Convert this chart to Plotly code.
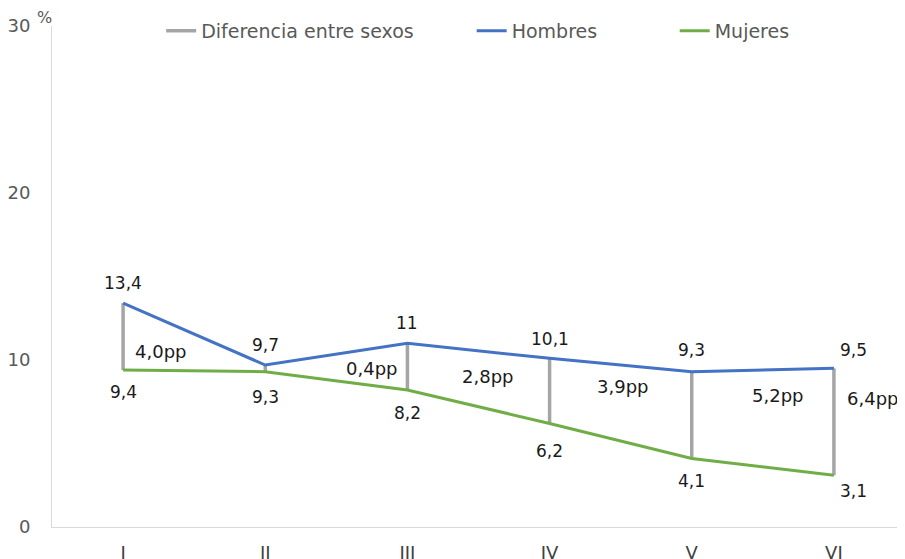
import plotly.graph_objects as go

categorias = ["I", "II", "III", "IV", "V", "VI"]
hombres = [13.4, 9.7, 11.0, 10.1, 9.3, 9.5]
mujeres = [9.4, 9.3, 8.2, 6.2, 4.1, 3.1]
diferencia_pp = [4.0, 0.4, 2.8, 3.9, 5.2, 6.4]
y_ticks = [0, 10, 20, 30]

C_H = "#4472C4"
C_M = "#70AD47"
C_G = "#A5A5A5"
FONT = "'DejaVu Sans', sans-serif"
TXT = "#1a1a1a"


def fmt(v):
    s = f"{v:.1f}".replace(".", ",")
    return s[:-2] if s.endswith(",0") and v == 11.0 else s


xs = list(range(len(categorias)))

# gray difference lines (mujeres -> hombres at each category)
gx, gy = [], []
for i in xs:
    gx += [i, i, None]
    gy += [hombres[i], mujeres[i], None]

fig = go.Figure()
fig.add_trace(go.Scatter(x=gx, y=gy, mode="lines", name="Diferencia entre sexos",
                         line=dict(color=C_G, width=3.5), legend="legend",
                         showlegend=True, hoverinfo="skip"))
fig.add_trace(go.Scatter(x=xs, y=hombres, mode="lines", name="Hombres",
                         line=dict(color=C_H, width=3), legend="legend2",
                         showlegend=True))
fig.add_trace(go.Scatter(x=xs, y=mujeres, mode="lines", name="Mujeres",
                         line=dict(color=C_M, width=3), legend="legend3",
                         showlegend=True))

ann = []
# label placement (style): pixel shifts
h_shift = [(0, 20), (0, 20), (0, 20), (0, 19), (0, 22), (20, 18)]
m_shift = [(0, -22), (0, -25), (0, -23), (0, -28), (0, -22), (20, -16)]
for i in xs:
    ann.append(dict(x=i, y=hombres[i], text=fmt(hombres[i]), showarrow=False,
                    xshift=h_shift[i][0], yshift=h_shift[i][1],
                    font=dict(size=17, color=TXT, family=FONT)))
    ann.append(dict(x=i, y=mujeres[i], text=fmt(mujeres[i]), showarrow=False,
                    xshift=m_shift[i][0], yshift=m_shift[i][1],
                    font=dict(size=17, color=TXT, family=FONT)))
# pp labels placement (style)
pp_dx = [0.26, 0.75, 0.56, 0.51, 0.6, 0.27]
pp_y = [10.5, 9.5, 9.0, 8.4, 7.9, 7.7]
for i in xs:
    ann.append(dict(x=i + pp_dx[i], y=pp_y[i], text=fmt(diferencia_pp[i]) + "pp",
                    showarrow=False, font=dict(size=18, color=TXT, family=FONT)))
# % unit
ann.append(dict(xref="paper", yref="paper", x=-0.009, y=1.0, yshift=9, text="%",
                showarrow=False, xanchor="center", yanchor="middle",
                font=dict(size=16, color="#595959", family=FONT)))

leg = dict(orientation="h", yanchor="middle", y=0.99, xanchor="left",
           font=dict(size=19, color="#595959", family=FONT),
           bgcolor="rgba(0,0,0,0)", itemwidth=30)

fig.update_layout(
    width=897, height=551,
    margin=dict(l=44, r=0, t=18, b=32),
    plot_bgcolor="white", paper_bgcolor="white",
    font=dict(family=FONT, color="#595959", size=16),
    annotations=ann,
    showlegend=True,
    legend=dict(leg, x=0.128),
    legend2=dict(leg, x=0.492),
    legend3=dict(leg, x=0.730),
    xaxis=dict(tickmode="array", tickvals=xs, ticktext=categorias,
               range=[-0.5, 5.5], showgrid=False, zeroline=False,
               showline=True, linecolor="#D9D9D9", linewidth=1,
               ticks="", tickfont=dict(size=18, color="#404040"),
               ticklabelstandoff=9, automargin=False),
    yaxis=dict(range=[0, 30], tickvals=y_ticks, showgrid=False, zeroline=False,
               showline=True, linecolor="#D9D9D9", linewidth=1, ticks="",
               tickfont=dict(size=18, color="#595959"), ticklabelstandoff=17,
               automargin=False),
)

fig.write_html("out.html")
